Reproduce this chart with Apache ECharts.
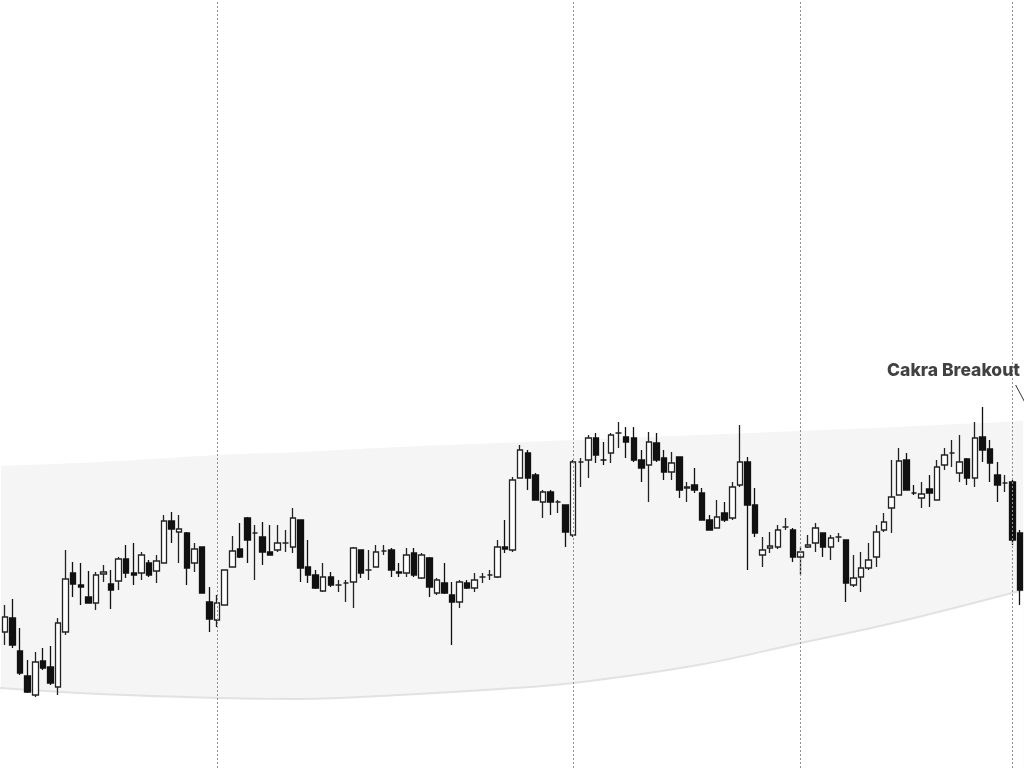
<!DOCTYPE html>
<html>
<head>
<meta charset="utf-8">
<script src="https://cdn.jsdelivr.net/npm/echarts@6/dist/echarts.min.js"></script>
<style>
html,body{margin:0;padding:0;background:#fff;}
#c{width:1024px;height:768px;}
</style>
</head>
<body>
<div id="c"></div>
<script>
// Candle values (arbitrary price units)
var opens  = [136,150,117,92,73,107,101,81,136,195,183,171,165,194,184,187,209,195,195,205,197,205,247,236,235,205,221,166,148,163,201,219,250,235,231,216,218,225,221,248,201,193,177,191,183,185,186,218,198,201,217,218,196,195,215,190,210,175,185,173,166,185,180,191,193,191,221,218,290,315,293,266,276,266,263,233,306,308,330,308,315,335,331,330,308,303,325,310,296,311,280,283,275,248,240,255,250,283,306,263,213,220,221,241,238,211,221,225,235,221,231,228,183,191,200,211,238,260,273,308,275,270,279,268,303,315,295,309,290,331,319,293,285,286,235];
var closes = [151,123,95,76,106,100,85,145,189,184,181,165,193,196,178,209,195,193,213,193,207,247,239,239,200,219,175,149,165,198,217,211,228,235,216,213,225,225,250,200,193,180,191,183,183,185,220,195,198,216,217,198,195,213,193,213,181,188,175,166,186,180,188,191,193,221,219,288,318,290,268,276,266,266,236,306,306,330,313,308,333,335,326,308,300,326,308,296,305,278,281,278,248,238,251,248,281,306,263,235,218,222,238,241,211,216,223,240,221,230,231,185,190,200,208,236,246,271,307,278,275,274,275,301,313,315,306,290,330,318,305,283,285,228,178];
var lows   = [123,120,93,75,71,98,83,73,133,171,163,165,158,186,159,178,190,183,188,191,185,205,225,205,183,196,175,136,141,163,201,210,205,188,203,213,216,216,215,186,185,179,176,181,176,166,160,190,188,201,213,191,191,191,191,189,171,173,174,123,160,179,176,185,188,190,215,216,290,278,268,250,253,255,221,231,281,290,305,303,305,320,310,306,286,266,306,288,288,270,266,275,248,238,240,246,248,281,198,231,201,215,219,238,206,193,220,216,211,208,226,166,181,176,198,201,236,235,273,278,273,260,261,268,298,301,286,283,281,306,286,266,276,223,163];
var highs  = [163,169,140,108,116,120,122,150,218,206,205,197,196,203,198,211,223,225,216,208,213,253,256,253,236,225,221,181,173,198,232,245,251,243,246,243,243,238,260,248,228,198,205,196,188,188,221,218,218,223,223,220,205,220,220,215,211,190,205,186,188,188,195,195,198,228,248,291,323,318,295,278,278,268,263,308,310,333,335,326,335,346,341,341,318,336,335,318,316,311,286,300,280,253,268,266,286,343,311,280,231,236,243,250,240,221,233,245,235,233,235,228,213,216,225,243,255,308,320,315,283,286,293,308,320,328,333,310,346,361,328,306,293,288,238];

// Shaded channel (x in candle-index units, y in price units)
var bandX      = [-0.66, 12.5, 28.2, 38.8, 52.0, 65.2, 75.0, 91.5, 105.0, 117.8, 134.4];
var bandTop    = [302, 306, 313, 316, 321, 325, 328, 333, 337, 341, 347];
var bandBottom = [80, 74, 70, 69, 73, 79, 85, 103, 125, 146, 178];

// Dotted session separators (candle-index units)
var separators = [-0.62, 28, 75, 105, 133];

// Annotation
var noteText = 'Cakra Breakout';
var notePos = [125.2, 397];
var notePointer = [[133.4, 383], [134.8, 363]];

var categories = opens.map(function (_, i) { return String(i + 1); });
var candles = opens.map(function (o, i) { return [o, closes[i], lows[i], highs[i]]; });

var chart = echarts.init(document.getElementById('c'), null, {renderer: 'canvas'});
chart.setOption({
  animation: false,
  backgroundColor: '#ffffff',
  grid: {left: 1.2, top: 0, width: 1025.6, height: 768, containLabel: false},
  xAxis: [
    {type: 'category', data: categories, boundaryGap: true, show: false},
    {type: 'value', min: -0.5, max: 134.5, show: false, splitLine: {show: false}}
  ],
  yAxis: {type: 'value', min: 0, max: 768, show: false, splitLine: {show: false}},
  series: [
    {
      name: 'bandHigh', type: 'line', xAxisIndex: 1, smooth: 0.4,
      symbol: 'none', clip: false, silent: true,
      lineStyle: {opacity: 0, width: 0},
      areaStyle: {color: '#f5f5f5', opacity: 1, origin: 'start'},
      data: bandX.map(function (x, i) { return [x, bandTop[i]]; }),
      z: 1
    },
    {
      name: 'bandLow', type: 'line', xAxisIndex: 1, smooth: 0.4,
      symbol: 'none', clip: false, silent: true,
      lineStyle: {color: '#e2e2e2', width: 2},
      areaStyle: {color: '#ffffff', opacity: 1, origin: 'start'},
      data: bandX.map(function (x, i) { return [x, bandBottom[i]]; }),
      z: 1
    },
    {
      name: 'separators', type: 'line', xAxisIndex: 1, symbol: 'none', silent: true,
      data: [[0, -50]],
      z: 2,
      markLine: {
        silent: true, symbol: 'none', animation: false,
        label: {show: false},
        lineStyle: {color: '#8f8f8f', type: [2, 2], width: 1},
        data: separators.map(function (v) { return {xAxis: v}; })
      }
    },
    {
      name: 'price', type: 'candlestick', xAxisIndex: 0,
      barWidth: 6,
      itemStyle: {color: '#ffffff', color0: '#111111', borderColor: '#222222', borderColor0: '#111111', borderWidth: 1.3},
      data: candles,
      z: 3
    },
    {
      name: 'pointer', type: 'line', xAxisIndex: 1, symbol: 'none', clip: false, silent: true,
      lineStyle: {color: '#333', width: 1},
      data: notePointer, z: 4
    },
    {
      name: 'note', type: 'scatter', xAxisIndex: 1, symbolSize: 0, silent: true,
      data: [notePos],
      label: {
        show: true, position: 'inside', formatter: noteText,
        fontFamily: 'Inter', fontWeight: 800, fontSize: 17.5, color: '#111111'
      },
      z: 5
    }
  ]
});
</script>
</body>
</html>
